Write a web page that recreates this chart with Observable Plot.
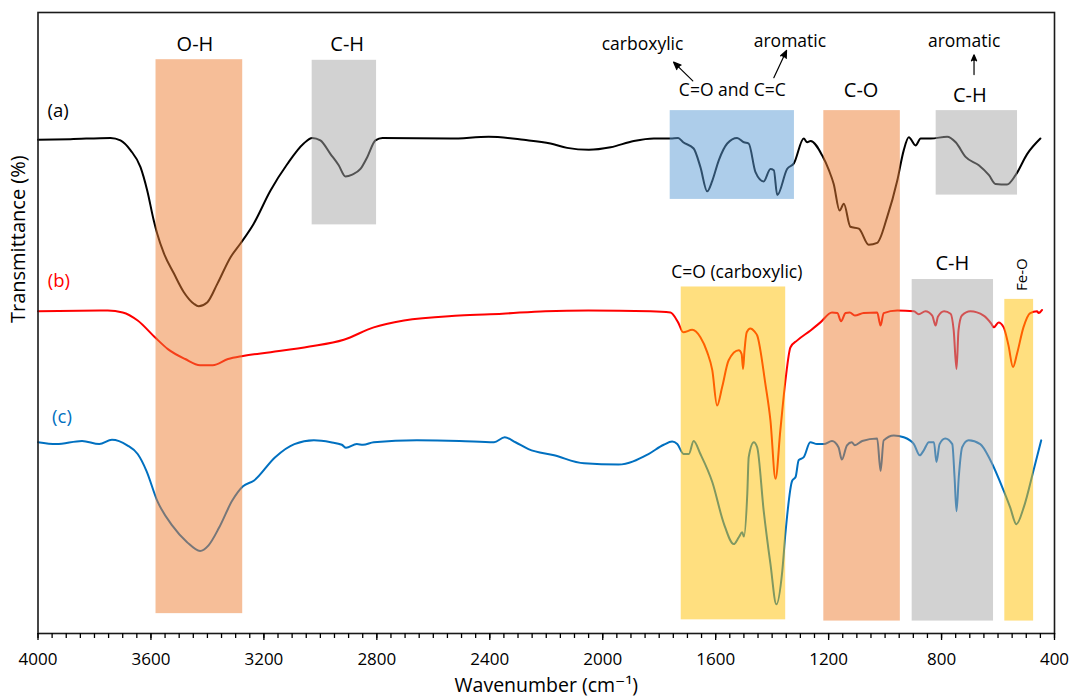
<!DOCTYPE html>
<html>
<head>
<meta charset="utf-8">
<script src="https://cdn.jsdelivr.net/npm/d3@7"></script>
<script src="https://cdn.jsdelivr.net/npm/@observablehq/plot@0.6"></script>
<style>
  body { margin: 0; background: #fff; }
  #chart svg { display: block; }
</style>
</head>
<body>
<div id="chart"></div>
<script>
// FTIR spectra: [wavenumber (cm-1), transmittance (arbitrary offset %)]
const spectrumA = [
  [4000,79.5],[3885,79.6],[3743,79.8],[3708,79.4],[3672,77.8],[3637,75.1],[3613,71.3],[3590,66.5],
  [3578,64.4],[3554,61.2],[3519,58.0],[3484,55.0],[3448,53.1],[3431,52.7],[3401,53.3],[3365,56.3],
  [3318,60.6],[3283,62.8],[3236,66.0],[3177,71.3],[3117,75.6],[3059,78.9],[3029,79.8],[3000,79.4],
  [2964,77.2],[2935,75.4],[2911,73.6],[2887,73.9],[2858,74.8],[2834,76.7],[2805,79.4],[2780,79.8],
  [2539,79.7],[2404,80.0],[2280,79.5],[2185,78.9],[2126,78.2],[2049,77.9],[1972,78.3],[1890,79.3],
  [1819,79.7],[1760,79.7],[1733,79.8],[1715,79.1],[1678,78.1],[1654,75.1],[1630,71.2],[1612,72.9],
  [1589,76.2],[1559,78.9],[1524,79.8],[1500,79.1],[1483,78.9],[1459,74.3],[1430,72.8],[1406,74.8],
  [1394,74.6],[1382,70.6],[1347,74.8],[1323,75.7],[1288,79.7],[1276,79.1],[1264,79.3],[1223,77.0],
  [1199,74.6],[1182,72.4],[1161,68.1],[1146,69.2],[1123,65.5],[1093,65.2],[1058,62.6],[1028,62.9],
  [993,67.0],[957,72.9],[934,77.8],[916,79.9],[892,78.6],[874,79.7],[838,79.7],[780,80.0],
  [750,79.1],[714,76.7],[668,75.4],[632,73.8],[609,72.4],[568,72.3],[538,73.8],[497,77.2],[450,79.7]
];
const spectrumB = [
  [4000,51.9],[3753,52.0],[3700,51.7],[3647,50.4],[3586,47.7],[3540,45.8],[3479,44.2],[3426,43.2],
  [3381,43.2],[3327,44.2],[3274,44.7],[3176,45.3],[3038,46.2],[2917,47.3],[2811,49.3],[2704,50.4],
  [2507,51.2],[2355,51.5],[2203,51.9],[2051,52.0],[1831,51.9],[1760,51.7],[1733,50.1],[1715,48.5],
  [1683,48.9],[1654,47.7],[1630,45.3],[1612,42.4],[1595,36.7],[1577,39.7],[1554,44.0],[1518,45.6],
  [1508,45.0],[1503,42.6],[1498,45.5],[1490,48.5],[1477,49.1],[1462,48.6],[1453,48.0],[1424,40.2],
  [1406,34.3],[1388,24.9],[1371,32.7],[1353,40.7],[1335,46.1],[1311,47.2],[1264,48.8],[1229,50.1],
  [1188,51.7],[1169,51.6],[1156,50.3],[1140,51.6],[1125,51.7],[1107,51.2],[1076,51.6],[1028,51.7],
  [1016,49.6],[1005,51.6],[957,52.0],[898,51.9],[881,51.4],[857,51.9],[833,51.2],[821,49.6],
  [813,51.0],[791,51.9],[768,51.5],[757,48.8],[747,42.6],[740,48.8],[728,51.2],[698,51.9],
  [651,51.2],[624,49.9],[615,49.3],[598,50.1],[580,49.3],[563,46.4],[547,42.9],[533,45.0],
  [510,49.3],[486,51.6],[462,51.9],[456,51.6],[444,52.1]
];
const spectrumC = [
  [4000,30.8],[3935,30.5],[3844,31.0],[3783,30.5],[3738,31.2],[3684,30.3],[3647,28.9],[3616,26.2],
  [3578,21.4],[3525,17.4],[3472,14.7],[3426,13.3],[3396,14.2],[3358,17.1],[3312,21.4],[3274,23.7],
  [3236,24.6],[3160,28.4],[3092,30.5],[3023,31.1],[2963,30.8],[2924,30.4],[2909,29.9],[2871,30.5],
  [2849,30.4],[2811,30.8],[2658,31.1],[2507,31.0],[2385,30.8],[2347,31.6],[2309,30.8],[2263,29.7],
  [2172,28.7],[2066,27.4],[1944,27.2],[1838,28.9],[1784,30.4],[1754,30.9],[1736,30.5],[1713,28.9],
  [1695,28.9],[1678,31.0],[1654,28.9],[1612,24.4],[1571,17.7],[1536,14.4],[1518,15.5],[1506,16.3],
  [1500,15.6],[1488,22.5],[1483,28.4],[1465,30.8],[1453,30.0],[1430,19.8],[1406,11.2],[1385,4.7],
  [1364,10.1],[1353,16.1],[1329,24.6],[1317,25.2],[1306,27.9],[1288,28.4],[1265,30.8],[1241,30.5],
  [1217,30.5],[1188,31.0],[1165,30.0],[1153,28.0],[1135,30.3],[1118,30.8],[1107,30.3],[1081,31.0],
  [1028,31.4],[1016,26.2],[1005,31.1],[969,31.9],[934,31.6],[898,30.5],[877,28.7],[863,29.5],
  [845,30.8],[827,30.8],[818,27.6],[807,30.5],[787,31.4],[762,30.5],[754,25.2],[747,19.7],
  [739,25.2],[727,30.0],[704,31.1],[663,30.5],[627,27.9],[580,23.0],[557,20.3],[535,17.6],
  [509,20.3],[473,26.5],[447,31.1]
];

const seriesNames = ["(a)", "(b)", "(c)"];
// where each series name sits: [wavenumber, transmittance]
const seriesLabelAt = [[3929, 84.2], [3926, 56.8], [3915, 34.9]];

// absorption bands: [from cm-1, to cm-1, lower transmittance, upper transmittance]
const bandNames = ["O-H", "C-H", "C=O and C=C", "C-O", "C-H", "C=O (carboxylic)", "C-H", "Fe-O"];
const bandRanges = [
  [3582, 3275, 3.2, 92.4],
  [3029, 2801, 65.8, 92.3],
  [1761, 1321, 69.9, 84.2],
  [1217, 946, 2.0, 84.2],
  [819, 531, 70.6, 84.2],
  [1722, 1352, 2.2, 55.8],
  [904, 616, 2.0, 57.0],
  [576, 474, 2.0, 53.8]
];
const bandGroups = ["hydroxyl", "alkyl", "conjugated", "ether", "alkyl", "carboxyl", "alkyl", "oxide"];
// band captions: [wavenumber, transmittance]
const bandLabelAt = [
  [3444, 94.9], [2905, 94.9], [1541, 87.5], [1085, 87.5], [700, 86.6], [1525, 58.2], [762, 59.5], [514, 57.8]
];

// assignment notes with arrows: text, text position, arrow tail, arrow head
const noteTexts = ["carboxylic", "aromatic", "aromatic"];
const noteAt = [[1859, 94.8], [1337, 95.3], [720, 95.3]];
const arrowTail = [[1681, 89.0], [1394, 89.5], [685, 90.0]];
const arrowHead = [[1749, 92.0], [1349, 93.9], [685, 93.2]];

const majorTicks = d3.range(400, 4001, 400);
const minorTicks = d3.range(400, 4001, 50);

// ---- styling ----
const seriesColor = {"(a)": "#000000", "(b)": "#ff0000", "(c)": "#0070c0"};
const groupColor = {
  hydroxyl: "#ed7d31", ether: "#ed7d31",
  alkyl: "#a5a5a5", conjugated: "#5b9bd5",
  carboxyl: "#ffc000", oxide: "#ffc000"
};
const font = "'Open Sans', 'DejaVu Sans', sans-serif";

const spectra = [spectrumA, spectrumB, spectrumC];
const lineMarks = spectra.map((pts, i) =>
  Plot.line(pts, {x: d => d[0], y: d => d[1], stroke: seriesColor[seriesNames[i]],
    strokeWidth: 2, strokeLinejoin: "round", curve: "monotone-x"}));

const bands = bandRanges.map((r, i) => ({name: bandNames[i], group: bandGroups[i],
  from: r[0], to: r[1], lo: r[2], hi: r[3], lx: bandLabelAt[i][0], ly: bandLabelAt[i][1]}));

const bandMarks = bands.map(b =>
  Plot.rect([b], {x1: "from", x2: "to", y1: "lo", y2: "hi",
    fill: groupColor[b.group], fillOpacity: 0.5}));

const bandLabels = bands.filter(b => b.name !== "Fe-O");
const sizeFor = name => (name.length <= 3 ? 20 : 17.5);

const notes = noteTexts.map((t, i) => ({text: t, x: noteAt[i][0], y: noteAt[i][1],
  x1: arrowTail[i][0], y1: arrowTail[i][1], x2: arrowHead[i][0], y2: arrowHead[i][1]}));

const seriesLabels = seriesNames.map((s, i) => ({name: s, x: seriesLabelAt[i][0], y: seriesLabelAt[i][1]}));

const chart = Plot.plot({
  width: 1071,
  height: 700,
  marginLeft: 37.5,
  marginRight: 17,
  marginTop: 12,
  marginBottom: 67,
  style: {fontFamily: font, fontSize: "17px", color: "#000", background: "#fff", overflow: "visible"},
  x: {domain: [4000, 400]},
  y: {domain: [0, 100], axis: null},
  marks: [
    ...lineMarks,
    ...bandMarks,
    Plot.frame({stroke: "#1a1a1a", strokeWidth: 1.6}),
    Plot.axisX({ticks: minorTicks, tickSize: 5, tickFormat: () => "", label: null, strokeWidth: 1.3}),
    Plot.axisX({ticks: majorTicks, tickSize: 7, tickPadding: 12, tickFormat: d => String(d),
      label: null, fontSize: 17, strokeWidth: 1.3}),
    // band captions
    ...bandLabels.map(b => Plot.text([b], {x: "lx", y: "ly", text: "name",
      fontSize: sizeFor(b.name), fill: "#000"})),
    Plot.text(bands.filter(b => b.name === "Fe-O"), {x: "lx", y: "ly", text: "name",
      rotate: -90, fontSize: 15, fill: "#000"}),
    // assignment notes and arrows
    Plot.text(notes, {x: "x", y: "y", text: "text", fontSize: 17.5, fill: "#000"}),
    Plot.arrow(notes, {x1: "x1", y1: "y1", x2: "x2", y2: "y2", stroke: "#000", fill: "#000",
      strokeWidth: 1.2, headLength: 10, headAngle: 45}),
    // series names
    ...seriesLabels.map(s => Plot.text([s], {x: "x", y: "y", text: "name", fontSize: 18.5,
      fill: seriesColor[s.name]})),
    // axis titles
    Plot.text(["Transmittance (%)"], {frameAnchor: "left", dx: -19, rotate: -90,
      text: d => d, fontSize: 20, fill: "#000"}),
    Plot.text(["Wavenumber (cm\u207B\u00B9)"], {frameAnchor: "bottom", dy: 58,
      text: d => d, fontSize: 19.5, fill: "#000"})
  ]
});

document.getElementById("chart").appendChild(chart);
</script>
</body>
</html>
